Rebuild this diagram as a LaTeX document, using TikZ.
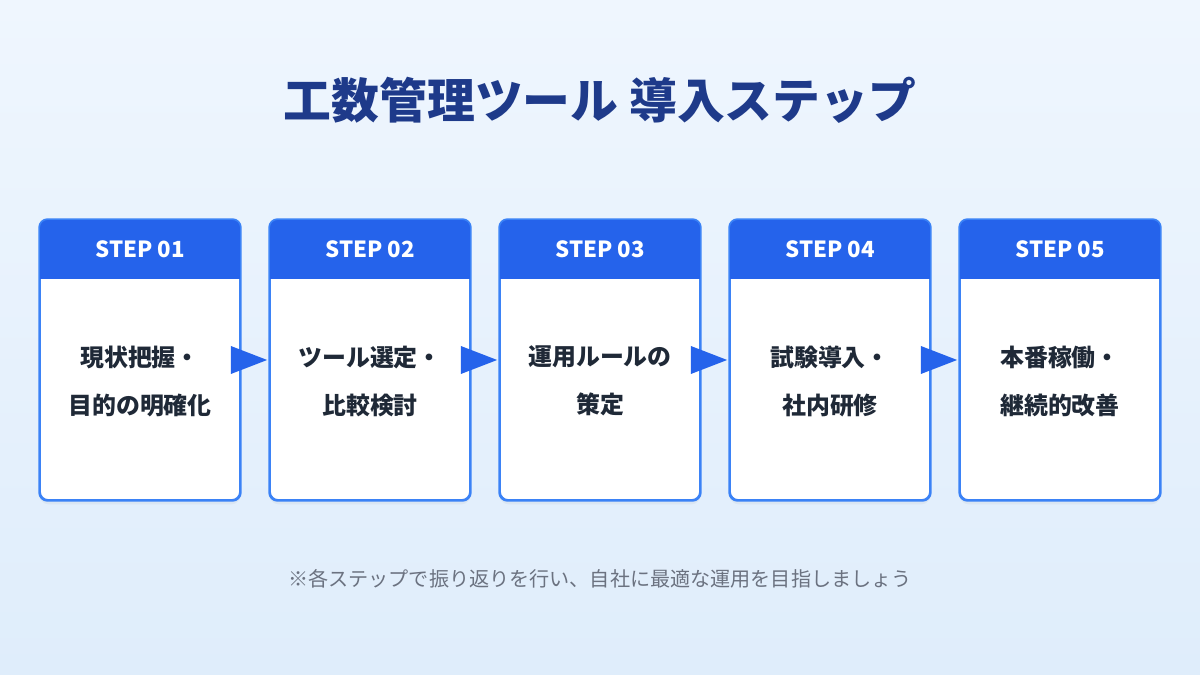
\documentclass[tikz,border=0pt]{standalone}
\usepackage{fontspec}
\setmainfont{Noto Sans CJK JP}
\usetikzlibrary{positioning,shadows}
\definecolor{bgtop}{HTML}{EFF6FE}
\definecolor{bgbot}{HTML}{DFEDFB}
\definecolor{stepblue}{HTML}{2563EB}
\definecolor{edgeblue}{HTML}{3B82F6}
\definecolor{titlenavy}{HTML}{1E3A8A}
\definecolor{textdark}{HTML}{1F2937}
\definecolor{notegray}{HTML}{6B7280}
\tikzset{
  stepcard/.style={draw=edgeblue,line width=1.2pt,fill=white,rounded corners=6pt,
    minimum width=5cm,minimum height=7cm,inner sep=0pt,
    drop shadow={opacity=0.08,shadow xshift=0pt,shadow yshift=-3pt}},
  steplabel/.style={text=white,font=\bfseries\fontsize{15.8}{18}\selectfont},
  steptext/.style={text=textdark,align=center,font=\bfseries\fontsize{17}{34}\selectfont},
  steparrow/.style={fill=stepblue}
}
\begin{document}
\begin{tikzpicture}[x=0.025cm,y=0.025cm]
  % background
  \shade[top color=bgtop,bottom color=bgbot] (0,0) rectangle (1200,675);
  \useasboundingbox (0,0) rectangle (1200,675);
  % title
  \node[text=titlenavy,font=\bfseries\fontsize{34}{40}\selectfont] (title) at (600,575)
    {工数管理ツール 導入ステップ};
  % cards
  \foreach \i/\lbl/\txt in {1/01/{現状把握・\\目的の明確化},2/02/{ツール選定・\\比較検討},
      3/03/{運用ルールの\\策定},4/04/{試験導入・\\社内研修},5/05/{本番稼働・\\継続的改善}}{
    \pgfmathsetmacro{\cx}{140+230*(\i-1)}
    \node[stepcard] (box\i) at (\cx,315) {};
    \begin{scope}
      \clip[rounded corners=6pt] (box\i.north west) rectangle (box\i.south east);
      \fill[stepblue] (box\i.north west) rectangle ([yshift=-1.5cm]box\i.north east);
    \end{scope}
    \draw[edgeblue,line width=1.2pt,rounded corners=6pt] (box\i.north west) rectangle (box\i.south east);
    \node[steplabel] (lab\i) at ([yshift=-0.75cm]box\i.north) {STEP \lbl};
    \node[steptext] (txt\i) at ([yshift=-4.05cm]box\i.north) {\txt};
  }
  % arrows between cards
  \foreach \i [count=\j from 2] in {1,...,4}{
    \fill[steparrow] ([xshift=-0.25cm,yshift=0.35cm]box\i.east) -- ([xshift=-0.05cm]box\j.west)
      -- ([xshift=-0.25cm,yshift=-0.35cm]box\i.east) -- cycle;
  }
  % note
  \node[text=notegray,font=\fontsize{14.3}{17}\selectfont] (note) at (600,96)
    {※各ステップで振り返りを行い、自社に最適な運用を目指しましょう};
\end{tikzpicture}
\end{document}
